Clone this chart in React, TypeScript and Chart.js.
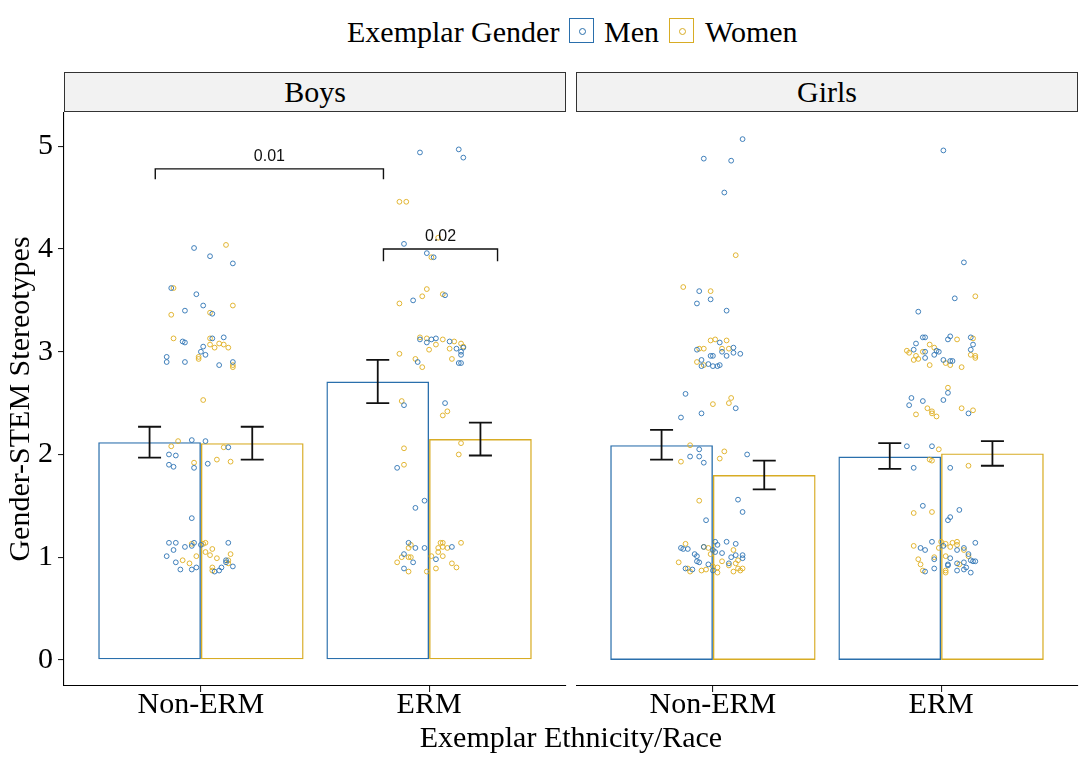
import React, { useEffect, useRef } from 'react';
import { Chart, registerables } from 'chart.js';

Chart.register(...registerables);

const SERIF = "'Liberation Serif', 'Times New Roman', serif";
const SANS = "'Liberation Sans', Arial, sans-serif";
Chart.defaults.font.family = SERIF;

// ---------- data ----------
const categories = ['Non-ERM', 'ERM'];
const yTicks = [0, 1, 2, 3, 4, 5];
const legendTitle = 'Exemplar Gender';
const genders = ['Men', 'Women'];
const panelNames = ['Boys', 'Girls'];
const xTitle = 'Exemplar Ethnicity/Race';
const yTitle = 'Gender-STEM Stereotypes';

// bar means and error bar limits, per category [Non-ERM, ERM]
const boysMenMean = [2.12, 2.71];
const boysMenLow = [1.97, 2.5];
const boysMenHigh = [2.27, 2.92];
const boysWomenMean = [2.11, 2.15];
const boysWomenLow = [1.95, 1.99];
const boysWomenHigh = [2.27, 2.31];
const girlsMenMean = [2.09, 1.98];
const girlsMenLow = [1.95, 1.86];
const girlsMenHigh = [2.24, 2.11];
const girlsWomenMean = [1.8, 2.01];
const girlsWomenLow = [1.66, 1.89];
const girlsWomenHigh = [1.94, 2.13];

// significance brackets (Boys panel): [xStart, xEnd, yLine, yTip, label]
const boysBrackets: [number, number, number, number, string][] = [
  [0.8, 1.8, 4.78, 4.68, '0.01'],
  [1.8, 2.3, 4.0, 3.88, '0.02'],
];

// individual responses: [jitter from category centre, value]
type Pt = [number, number];
const boysNonErmMen: Pt[] = [
  [-0.03, 4.01], [0.04, 3.93], [0.14, 3.86], [-0.13, 3.62], [-0.02, 3.56], [0.01, 3.45], [-0.07, 3.4], [0.05, 3.37],
  [-0.08, 3.1], [-0.07, 3.09], [0.05, 3.13], [0.1, 3.14], [0.01, 3.05], [0.0, 3.0], [0.02, 2.97], [-0.15, 2.95],
  [-0.15, 2.9], [-0.07, 2.9], [0.08, 2.87], [0.14, 2.9], [-0.04, 2.14], [0.02, 2.13], [0.12, 2.07], [-0.14, 2.0],
  [-0.11, 1.99], [-0.14, 1.9], [-0.12, 1.88], [-0.03, 1.87], [0.03, 1.91], [-0.04, 1.38], [-0.14, 1.14], [-0.11, 1.14],
  [-0.12, 1.07], [-0.07, 1.1], [-0.03, 1.14], [-0.04, 1.11], [0.0, 1.12], [0.12, 1.14], [-0.15, 1.01], [-0.11, 0.95],
  [-0.09, 0.88], [-0.04, 0.88], [-0.02, 0.9], [0.06, 0.86], [0.08, 0.87], [0.09, 0.9], [0.11, 0.95], [0.11, 0.97],
  [0.14, 0.91],
];
const boysNonErmWomen: Pt[] = [
  [0.11, 4.04], [-0.12, 3.62], [0.14, 3.45], [-0.13, 3.36], [0.04, 3.38], [-0.12, 3.13], [0.04, 3.13], [0.04, 3.07],
  [0.06, 3.04], [0.08, 3.08], [0.1, 3.07], [0.12, 3.04], [-0.01, 2.95], [-0.01, 2.93], [0.14, 2.87], [0.14, 2.85],
  [0.01, 2.53], [-0.1, 2.13], [-0.13, 2.08], [0.1, 2.07], [-0.03, 1.92], [0.07, 1.95], [0.13, 1.93], [-0.04, 1.13],
  [0.01, 1.13], [0.02, 1.14], [0.05, 1.08], [0.02, 1.05], [0.04, 1.02], [-0.02, 1.01], [-0.08, 0.97], [-0.05, 0.94],
  [0.07, 0.99], [0.13, 1.03], [0.05, 0.9], [0.05, 0.87], [0.12, 0.97], [0.12, 0.94],
];
const boysErmMen: Pt[] = [
  [-0.04, 4.94], [0.13, 4.97], [0.15, 4.89], [-0.11, 4.05], [-0.01, 3.96], [0.02, 3.92], [-0.07, 3.5], [0.07, 3.55],
  [-0.04, 3.12], [-0.01, 3.09], [0.01, 3.12], [0.03, 3.13], [0.09, 3.1], [0.12, 3.03], [0.15, 3.04], [0.14, 3.0],
  [0.14, 2.97], [0.13, 2.89], [0.14, 2.89], [-0.05, 2.9], [-0.11, 2.48], [0.07, 2.5], [-0.14, 1.87], [-0.06, 1.48],
  [-0.02, 1.55], [-0.09, 1.14], [-0.06, 1.09], [-0.02, 1.09], [-0.11, 1.03], [-0.07, 0.95], [-0.11, 0.89], [0.03, 0.98],
  [0.1, 1.1],
];
const boysErmWomen: Pt[] = [
  [-0.13, 4.46], [-0.1, 4.46], [0.04, 4.11], [0.01, 3.92], [-0.13, 3.47], [-0.03, 3.54], [-0.01, 3.61], [0.06, 3.56],
  [-0.04, 3.14], [-0.01, 3.13], [0.03, 3.07], [0.0, 3.02], [0.06, 3.12], [0.11, 3.1], [0.09, 3.03], [0.14, 3.08],
  [0.15, 3.05], [0.1, 2.93], [-0.13, 2.98], [-0.06, 2.93], [-0.03, 2.85], [-0.12, 2.52], [0.08, 2.42], [0.06, 2.38],
  [0.14, 2.11], [0.13, 2.0], [-0.11, 2.06], [-0.11, 1.9], [-0.08, 1.12], [-0.09, 1.09], [-0.12, 1.0], [-0.14, 0.95],
  [-0.09, 1.0], [-0.08, 1.0], [-0.09, 0.86], [-0.01, 0.86], [0.03, 0.89], [0.01, 1.01], [0.04, 1.05], [0.06, 1.01],
  [0.05, 1.14], [0.06, 1.14], [0.06, 1.1], [0.04, 1.09], [0.08, 1.09], [0.14, 1.14], [0.1, 0.94], [0.12, 0.9],
];
const girlsNonErmMen: Pt[] = [
  [0.13, 5.07], [-0.04, 4.88], [0.08, 4.86], [0.05, 4.55], [-0.06, 3.59], [-0.01, 3.51], [-0.07, 3.47], [0.06, 3.4],
  [0.03, 3.09], [-0.07, 3.02], [0.04, 3.0], [0.09, 3.04], [0.09, 2.99], [0.12, 2.98], [0.06, 2.96], [-0.01, 2.96],
  [0.0, 2.96], [-0.05, 2.92], [-0.05, 2.86], [-0.02, 2.88], [0.0, 2.86], [0.02, 2.86], [0.03, 2.87], [-0.12, 2.59],
  [0.1, 2.45], [-0.05, 2.4], [-0.14, 2.36], [-0.06, 2.05], [-0.1, 1.98], [-0.06, 1.98], [-0.04, 1.92], [0.15, 2.0],
  [0.11, 1.56], [0.13, 1.44], [-0.03, 1.36], [-0.14, 1.09], [-0.13, 1.08], [-0.11, 1.08], [-0.08, 1.03], [-0.07, 1.01],
  [-0.07, 0.96], [-0.06, 0.95], [-0.12, 0.89], [-0.09, 0.88], [-0.04, 1.1], [0.0, 1.07], [0.01, 1.15], [0.02, 1.12],
  [0.01, 1.05], [0.04, 1.04], [0.06, 1.15], [0.1, 1.13], [0.08, 1.0], [0.1, 1.02], [0.13, 1.02], [0.13, 0.99],
  [0.07, 0.94], [-0.02, 0.93], [0.0, 0.87],
];
const girlsNonErmWomen: Pt[] = [
  [0.1, 3.94], [-0.13, 3.63], [-0.01, 3.59], [-0.01, 3.11], [0.01, 3.12], [0.06, 3.11], [-0.06, 3.03], [-0.04, 3.03],
  [0.04, 3.03], [0.07, 3.03], [-0.07, 2.9], [-0.04, 2.87], [0.08, 2.55], [0.07, 2.5], [0.0, 2.49], [-0.1, 2.09],
  [-0.14, 1.93], [0.05, 2.03], [0.03, 1.96], [-0.06, 1.55], [-0.12, 1.13], [-0.15, 0.95], [-0.1, 0.86], [-0.11, 0.89],
  [-0.04, 1.1], [-0.02, 1.09], [-0.01, 1.03], [0.09, 1.07], [0.11, 0.97], [0.1, 0.94], [0.04, 0.96], [0.07, 0.92],
  [0.0, 0.91], [0.02, 0.9], [0.02, 0.85], [-0.03, 0.88], [-0.05, 0.87], [0.09, 0.86], [0.11, 0.89], [0.13, 0.89],
  [0.12, 0.87],
];
const girlsErmMen: Pt[] = [
  [0.01, 4.96], [0.1, 3.87], [0.06, 3.52], [-0.1, 3.39], [-0.08, 3.14], [-0.07, 3.14], [0.04, 3.15], [0.03, 3.12],
  [0.13, 3.14], [0.14, 3.07], [0.13, 3.02], [-0.11, 3.08], [-0.12, 3.02], [-0.02, 3.01], [-0.01, 3.0], [-0.03, 2.97],
  [-0.07, 3.0], [-0.07, 2.94], [0.01, 2.92], [0.04, 2.91], [0.05, 2.91], [0.03, 2.6], [0.01, 2.53], [-0.13, 2.55],
  [-0.14, 2.48], [-0.08, 2.52], [0.12, 2.4], [-0.15, 2.08], [-0.04, 2.08], [-0.12, 1.87], [0.04, 1.87], [-0.08, 1.5],
  [0.08, 1.46], [0.04, 1.39], [0.03, 1.36], [-0.09, 1.09], [-0.07, 1.07], [-0.04, 1.15], [0.01, 1.11], [0.1, 1.09],
  [0.07, 1.07], [0.15, 1.14], [0.12, 1.03], [0.04, 0.99], [-0.03, 0.98], [0.03, 0.93], [0.03, 0.92], [0.07, 0.94],
  [0.1, 0.95], [0.13, 0.97], [0.14, 0.96], [0.15, 0.96], [0.11, 0.9], [0.1, 0.88], [0.07, 0.87], [0.13, 0.85],
  [-0.03, 0.89], [-0.07, 0.86],
];
const girlsErmWomen: Pt[] = [
  [0.15, 3.54], [0.07, 3.12], [0.14, 3.13], [0.13, 2.97], [0.15, 2.96], [0.15, 2.94], [-0.05, 3.07], [-0.03, 3.04],
  [-0.08, 3.0], [-0.15, 3.01], [-0.14, 2.99], [-0.11, 2.96], [-0.12, 2.92], [-0.1, 2.93], [-0.05, 2.87], [0.02, 2.89],
  [0.04, 2.87], [0.09, 2.85], [0.03, 2.65], [-0.11, 2.39], [-0.06, 2.45], [-0.04, 2.42], [-0.04, 2.4], [-0.02, 2.37],
  [0.09, 2.45], [0.14, 2.43], [-0.01, 2.05], [-0.05, 1.95], [-0.04, 1.94], [0.12, 1.89], [-0.12, 1.43], [-0.04, 1.44],
  [-0.12, 1.11], [-0.01, 1.09], [0.0, 1.15], [0.02, 1.13], [0.04, 1.1], [0.05, 1.14], [0.07, 1.15], [0.07, 1.12],
  [0.1, 1.07], [0.12, 1.01], [0.02, 1.01], [-0.03, 1.0], [-0.1, 0.98], [-0.09, 0.93], [0.08, 0.93], [0.02, 0.87],
  [0.02, 0.85], [-0.08, 0.87],
];

// ---------- styling ----------
const MEN_COLOR = '#2A6FAC';
const WOMEN_COLOR = '#D8AC24';
const MEN_POINT = 'rgba(45,115,180,0.9)';
const WOMEN_POINT = 'rgba(224,176,36,0.92)';
const INK = '#111111';

const toPoints = (sets: Pt[][]) =>
  sets.flatMap((pts, ci) => pts.map(([j, v]) => ({ x: ci + 1 + j, y: v })));

const errorBarPlugin = {
  id: 'errorBars',
  afterDatasetsDraw(chart: any, _args: any, opts: any) {
    const { ctx } = chart;
    const ys = chart.scales.y;
    ctx.save();
    ctx.strokeStyle = INK;
    ctx.lineWidth = 1.8;
    (opts.sets || []).forEach((s: any) => {
      const meta = chart.getDatasetMeta(s.datasetIndex);
      meta.data.forEach((el: any, i: number) => {
        const half = el.width * 0.112;
        const yl = ys.getPixelForValue(s.low[i]);
        const yh = ys.getPixelForValue(s.high[i]);
        ctx.beginPath();
        ctx.moveTo(el.x, yl);
        ctx.lineTo(el.x, yh);
        ctx.moveTo(el.x - half, yl);
        ctx.lineTo(el.x + half, yl);
        ctx.moveTo(el.x - half, yh);
        ctx.lineTo(el.x + half, yh);
        ctx.stroke();
      });
    });
    ctx.restore();
  },
};

const bracketPlugin = {
  id: 'brackets',
  afterDatasetsDraw(chart: any, _args: any, opts: any) {
    const items = opts.items || [];
    if (!items.length) return;
    const { ctx } = chart;
    const xs = chart.scales.x;
    const ys = chart.scales.y;
    ctx.save();
    ctx.strokeStyle = INK;
    ctx.lineWidth = 1.4;
    ctx.fillStyle = INK;
    ctx.font = `16px ${SANS}`;
    ctx.textAlign = 'center';
    ctx.textBaseline = 'middle';
    items.forEach(([x1, x2, yl, yt, label]: any) => {
      const px1 = xs.getPixelForValue(x1);
      const px2 = xs.getPixelForValue(x2);
      const py = ys.getPixelForValue(yl);
      const pt = ys.getPixelForValue(yt);
      ctx.beginPath();
      ctx.moveTo(px1, pt);
      ctx.lineTo(px1, py);
      ctx.lineTo(px2, py);
      ctx.lineTo(px2, pt);
      ctx.stroke();
      ctx.fillText(label, (px1 + px2) / 2, py - 12);
    });
    ctx.restore();
  },
};

interface PanelProps {
  left: number;
  width: number;
  showY: boolean;
  men: Pt[][];
  women: Pt[][];
  menMean: number[];
  menLow: number[];
  menHigh: number[];
  womenMean: number[];
  womenLow: number[];
  womenHigh: number[];
  brackets: [number, number, number, number, string][];
}

const CANVAS_TOP = 112;
const CANVAS_H = 650;

function Panel(p: PanelProps) {
  const ref = useRef<HTMLCanvasElement>(null);
  useEffect(() => {
    if (!ref.current) return;
    const pointBase = {
      type: 'scatter' as const,
      pointRadius: 2.4,
      pointBorderWidth: 1,
      pointBackgroundColor: 'rgba(0,0,0,0)',
      showLine: false,
    };
    const barBase = {
      type: 'bar' as const,
      backgroundColor: 'rgba(255,255,255,0)',
      borderWidth: 1.4,
      borderSkipped: false as const,
      categoryPercentage: 0.9,
      barPercentage: 1,
    };
    const chart = new Chart(ref.current, {
      type: 'bar',
      data: {
        datasets: [
          { ...pointBase, label: genders[0] + ' points', data: toPoints(p.men), pointBorderColor: MEN_POINT } as any,
          { ...pointBase, label: genders[1] + ' points', data: toPoints(p.women), pointBorderColor: WOMEN_POINT } as any,
          {
            ...barBase,
            label: genders[0],
            data: categories.map((_, i) => ({ x: i + 1, y: p.menMean[i] })),
            borderColor: MEN_COLOR,
          } as any,
          {
            ...barBase,
            label: genders[1],
            data: categories.map((_, i) => ({ x: i + 1, y: p.womenMean[i] })),
            borderColor: WOMEN_COLOR,
          } as any,
        ],
      },
      options: {
        responsive: false,
        animation: false,
        events: [],
        layout: { autoPadding: false, padding: { left: 0, right: 4, top: 0, bottom: 0 } },
        plugins: {
          legend: { display: false },
          tooltip: { enabled: false },
          errorBars: {
            sets: [
              { datasetIndex: 2, low: p.menLow, high: p.menHigh },
              { datasetIndex: 3, low: p.womenLow, high: p.womenHigh },
            ],
          },
          brackets: { items: p.brackets },
        } as any,
        scales: {
          x: {
            type: 'linear',
            min: 0.4,
            max: 2.6,
            offset: false,
            afterBuildTicks: (s: any) => {
              s.ticks = categories.map((_, i) => ({ value: i + 1 }));
            },
            afterFit: (s: any) => {
              s.height = 76;
              s.paddingLeft = 0;
              s.paddingRight = 0;
            },
            ticks: {
              callback: (v: any) => categories[Math.round(Number(v)) - 1] ?? '',
              font: { size: 30, lineHeight: 1, family: SERIF },
              color: '#000',
              padding: -2,
              maxRotation: 0,
              autoSkip: false,
            },
            grid: {
              display: true,
              drawOnChartArea: false,
              drawTicks: true,
              tickLength: 6,
              color: '#222',
              tickColor: '#222',
              lineWidth: 1.1,
              offset: false,
            },
            border: { display: true, color: '#000', width: 1.1 },
          } as any,
          y: {
            type: 'linear',
            min: -0.254,
            max: 5.334,
            display: p.showY,
            afterBuildTicks: (s: any) => {
              s.ticks = yTicks.map((v) => ({ value: v }));
            },
            afterFit: (s: any) => {
              s.width = p.showY ? 64 : 0;
              s.paddingTop = 0;
              s.paddingBottom = 0;
            },
            ticks: {
              font: { size: 30, lineHeight: 1, family: SERIF },
              color: '#000',
              padding: 5,
            },
            grid: {
              display: true,
              drawOnChartArea: false,
              drawTicks: true,
              tickLength: 6,
              color: '#222',
              tickColor: '#222',
              lineWidth: 1.1,
            },
            border: { display: true, color: '#000', width: 1.1 },
            title: {
              display: true,
              text: yTitle,
              color: '#000',
              font: { size: 30, family: SERIF },
              padding: { top: 3, bottom: 0 },
            },
          } as any,
        },
      },
      plugins: [errorBarPlugin, bracketPlugin],
    });
    return () => chart.destroy();
  }, []);
  return (
    <canvas
      ref={ref}
      width={p.width}
      height={CANVAS_H}
      style={{ position: 'absolute', left: p.left, top: CANVAS_TOP, width: p.width, height: CANVAS_H }}
    />
  );
}

const textStyle: React.CSSProperties = {
  position: 'absolute',
  fontFamily: SERIF,
  fontSize: 30,
  lineHeight: '36px',
  color: '#000',
  whiteSpace: 'nowrap',
};

function LegendKey({ left, color }: { left: number; color: string }) {
  return (
    <div
      style={{
        position: 'absolute',
        left,
        top: 18,
        width: 25,
        height: 25,
        boxSizing: 'border-box',
        border: `1.5px solid ${color}`,
      }}
    >
      <div
        style={{
          position: 'absolute',
          left: 8.5,
          top: 8.5,
          width: 5,
          height: 5,
          borderRadius: '50%',
          border: `1px solid ${color}`,
        }}
      />
    </div>
  );
}

function Strip({ left, label }: { left: number; label: string }) {
  return (
    <div
      style={{
        position: 'absolute',
        left,
        top: 72,
        width: 502,
        height: 40,
        boxSizing: 'border-box',
        background: '#f2f2f2',
        border: '1.3px solid #333',
        display: 'flex',
        alignItems: 'center',
        justifyContent: 'center',
        fontFamily: SERIF,
        fontSize: 30,
        lineHeight: '36px',
        color: '#000',
      }}
    >
      {label}
    </div>
  );
}

export default function App() {
  return (
    <div
      style={{
        position: 'absolute',
        left: 0,
        top: 0,
        width: 1089,
        height: 762,
        overflow: 'hidden',
        background: '#fff',
      }}
    >
      <div style={{ ...textStyle, left: 347, top: 14 }}>{legendTitle}</div>
      <LegendKey left={569} color={MEN_COLOR} />
      <div style={{ ...textStyle, left: 604, top: 14 }}>{genders[0]}</div>
      <LegendKey left={669} color={WOMEN_COLOR} />
      <div style={{ ...textStyle, left: 705, top: 14 }}>{genders[1]}</div>

      <Strip left={64} label={panelNames[0]} />
      <Strip left={576} label={panelNames[1]} />

      <Panel
        left={0}
        width={570}
        showY={true}
        men={[boysNonErmMen, boysErmMen]}
        women={[boysNonErmWomen, boysErmWomen]}
        menMean={boysMenMean}
        menLow={boysMenLow}
        menHigh={boysMenHigh}
        womenMean={boysWomenMean}
        womenLow={boysWomenLow}
        womenHigh={boysWomenHigh}
        brackets={boysBrackets}
      />
      <Panel
        left={576}
        width={506}
        showY={false}
        men={[girlsNonErmMen, girlsErmMen]}
        women={[girlsNonErmWomen, girlsErmWomen]}
        menMean={girlsMenMean}
        menLow={girlsMenLow}
        menHigh={girlsMenHigh}
        womenMean={girlsWomenMean}
        womenLow={girlsWomenLow}
        womenHigh={girlsWomenHigh}
        brackets={[]}
      />

      <div style={{ ...textStyle, left: 64, width: 1014, top: 719, textAlign: 'center' }}>{xTitle}</div>
    </div>
  );
}
